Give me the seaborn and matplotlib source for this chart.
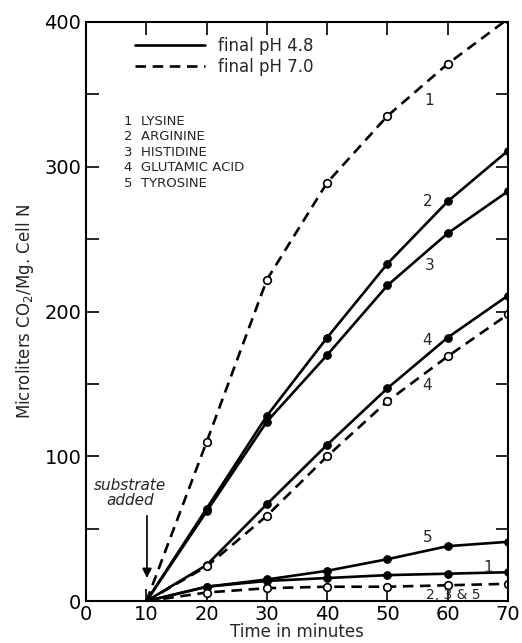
import numpy as np
import pandas as pd
import matplotlib.pyplot as plt
from matplotlib.lines import Line2D
import seaborn as sns

sns.set_style('ticks')
plt.rcParams['font.family'] = ['DejaVu Sans']

# time points, substrate added at 10 min
minutes = [10, 20, 30, 40, 50, 60, 70]

# final pH 4.8 (solid, filled points)
arginine_48 = [0, 64, 128, 182, 233, 276, 311]
histidine_48 = [0, 62, 124, 170, 218, 254, 283]
glutamic_48 = [0, 25, 67, 108, 147, 182, 211]
tyrosine_48 = [0, 10, 15, 21, 29, 38, 41]
lysine_48 = [0, 10, 14, 16, 18, 19, 20]

# final pH 7.0 (dashed, open points)
lysine_70 = [0, 110, 222, 289, 335, 371, 402]
glutamic_70 = [0, 24, 59, 100, 138, 169, 198]
arg_his_tyr_70 = [0, 6, 9, 10, 10, 11, 12]

solid_series = [arginine_48, histidine_48, glutamic_48, tyrosine_48, lysine_48]
dashed_series = [lysine_70, glutamic_70, arg_his_tyr_70]

fig = plt.figure(figsize=(5.22, 6.43), dpi=100)
ax = fig.add_axes([0.165, 0.065, 0.808, 0.901])

for vals in solid_series:
    sns.lineplot(x=minutes, y=vals, ax=ax, color='black', linewidth=1.9,
                 marker='o', markersize=5.5, markerfacecolor='black',
                 markeredgecolor='black', markevery=slice(1, None))
for vals in dashed_series:
    sns.lineplot(x=minutes, y=vals, ax=ax, color='black', linewidth=1.9,
                 linestyle=(0, (4, 2.5)), marker='o', markersize=5.5,
                 markerfacecolor='white', markeredgecolor='black',
                 markeredgewidth=1.2, markevery=slice(1, None))

ax.set_xlim(0, 70)
ax.set_ylim(0, 400)
ax.set_xticks(range(0, 71, 10))
ax.set_yticks(range(0, 401, 100))
ax.set_yticks(range(50, 400, 100), minor=True)
ax.tick_params(axis='both', which='both', direction='in', length=9, width=1.2,
               top=True, right=True, labelsize=14, colors='black')
ax.tick_params(axis='x', pad=3)
for s in ax.spines.values():
    s.set_linewidth(1.5)
    s.set_color('black')

ax.set_xlabel('Time in minutes', fontsize=12, labelpad=-1)
ax.set_ylabel('Microliters CO$_2$/Mg. Cell N', fontsize=12, labelpad=6)

handles = [Line2D([], [], color='black', linewidth=1.9),
           Line2D([], [], color='black', linewidth=1.9, linestyle=(0, (4, 2.5)))]
ax.legend(handles, ['final pH 4.8', 'final pH 7.0'], loc='upper left',
          bbox_to_anchor=(0.08, 1.0), frameon=False, fontsize=12,
          handlelength=4.2, handletextpad=0.8, labelspacing=0.2)

names = ['1  LYSINE', '2  ARGININE', '3  HISTIDINE', '4  GLUTAMIC ACID', '5  TYROSINE']
ax.text(0.09, 0.84, '\n'.join(names), transform=ax.transAxes, fontsize=9.5,
        va='top', ha='left', linespacing=1.25)

# curve numbers
ax.text(57, 346, '1', fontsize=11, ha='center', va='center')
ax.text(56.7, 276, '2', fontsize=11, ha='center', va='center')
ax.text(57, 232, '3', fontsize=11, ha='center', va='center')
ax.text(56.6, 180, '4', fontsize=11, ha='center', va='center')
ax.text(56.6, 149, '4', fontsize=11, ha='center', va='center')
ax.text(56.7, 44, '5', fontsize=11, ha='center', va='center')
ax.text(66.7, 23, '1', fontsize=11, ha='center', va='center')
ax.text(61, 4, '2, 3 & 5', fontsize=10, ha='center', va='center')

ax.text(7.3, 75, 'substrate\nadded', fontsize=11, style='italic',
        ha='center', va='center', linespacing=1.0)
ax.annotate('', xy=(10.1, 16), xytext=(10.1, 59),
            arrowprops=dict(arrowstyle='-|>', color='black', lw=1.2,
                            shrinkA=0, shrinkB=0, mutation_scale=14))

fig.savefig('out.png', dpi=100)
